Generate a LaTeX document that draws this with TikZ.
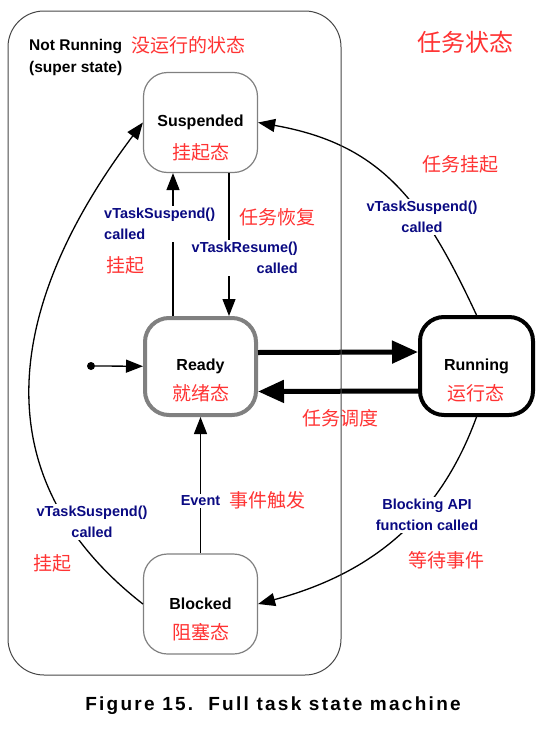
\documentclass[tikz,border=0pt]{standalone}
\usepackage{fontspec}
\setmainfont{Liberation Sans}
\newfontfamily\cjk{Noto Sans CJK SC}
\newfontfamily\capfont[LetterSpace=12]{Liberation Sans}
\usepackage{tikz}
\usetikzlibrary{
  arrows.meta,
  positioning
}
\definecolor{notered}{RGB}{255,51,51}
\definecolor{callblue}{RGB}{10,10,130}
\definecolor{framegray}{RGB}{70,70,70}
\definecolor{boxgray}{RGB}{128,128,128}

\begin{document}
\begin{tikzpicture}[x=1pt,y=1pt,
  state/.style={rectangle,rounded corners=24pt,draw=boxgray,line width=1.2pt,fill=white,minimum width=114pt,minimum height=100pt,font=\bfseries\fontsize{16}{19}\selectfont},
  bigstate/.style={state,line width=4pt,minimum width=111pt,minimum height=97pt},
  note/.style={text=notered,inner sep=0pt,font=\cjk\fontsize{19}{22}\selectfont},
  call/.style={text=callblue,fill=white,inner sep=2pt,align=center,font=\bfseries\fontsize{14.5}{21}\selectfont},
  tip/.style={-{Triangle[length=17pt,width=13pt]},line width=1.3pt},
  fattip/.style={-{Triangle[length=26pt,width=22pt]},line width=5pt}]
  \useasboundingbox (0,0) rectangle (558,-736);

  \node[anchor=west,align=left,inner sep=0pt,font=\bfseries\fontsize{15.5}{22}\selectfont] (0) at (29,-57) {Not Running\\(super state)};
  \node[state] (1) at (200.5,-122.5) {Suspended};
  \node[bigstate] (2) at (200.5,-366.5) {Ready};
  \node[bigstate,draw=black,minimum width=113pt,minimum height=98pt] (3) at (476.5,-366) {Running};
  \node[state] (4) at (200.5,-604) {Blocked};
  \node[circle,fill=black,inner sep=0pt,minimum size=8pt] (5) at (91,-366) {};

  \draw[tip] (5) -- (2);
  \draw[fattip] ([yshift=14pt]2.east) -- ([yshift=14pt]3.west);
  \draw[fattip] ([yshift=-25pt]3.west) -- ([yshift=-25pt]2.east);
  \draw[tip] ([xshift=-27.5pt]2.north) -- ([xshift=-27.5pt]1.south);
  \draw[tip] ([xshift=28.5pt]1.south) -- ([xshift=28.5pt]2.north);
  \draw[tip] (4) -- (2);
  \draw[tip] (3.north) to[out=115,in=-10,looseness=1.1] (1.east);
  \draw[tip] (3.south) to[out=-110,in=15] (4.east);
  \draw[tip] (4.west) to[out=142,in=233,looseness=1.15] (1.west);

  \node[call,anchor=west,align=left] (6) at (102,-224) {vTaskSuspend()\\called};
  \node[call,anchor=east,align=right] (7) at (300,-258) {vTaskResume()\\called};
  \node[call] (8) at (422,-217) {vTaskSuspend()\\called};
  \node[call] (9) at (427,-515) {Blocking API\\function called};
  \node[call] (10) at (92,-522) {vTaskSuspend()\\called};
  \node[call] (11) at (200.5,-501) {Event};

  \node[note] (12) at (188,-45) {没运行的状态};
  \node[note,font=\cjk\fontsize{24}{28}\selectfont] (13) at (465,-42) {任务状态};
  \node[note] (14) at (200.5,-152) {挂起态};
  \node[note] (15) at (200.5,-393) {就绪态};
  \node[note] (16) at (476,-393) {运行态};
  \node[note] (17) at (200.5,-632) {阻塞态};
  \node[note] (18) at (460,-164) {任务挂起};
  \node[note] (19) at (277,-217) {任务恢复};
  \node[note] (20) at (125,-265) {挂起};
  \node[note] (21) at (340,-418) {任务调度};
  \node[note] (22) at (267,-500) {事件触发};
  \node[note] (23) at (52,-563) {挂起};
  \node[note] (24) at (446,-560) {等待事件};

  \draw[framegray,line width=1pt,rounded corners=36pt] (8,-11) rectangle (341,-675);
  \node[font=\capfont\bfseries\fontsize{19}{22}\selectfont] (25) at (273,-706) {Figure 15.~~Full task state machine};

\end{tikzpicture}
\end{document}
